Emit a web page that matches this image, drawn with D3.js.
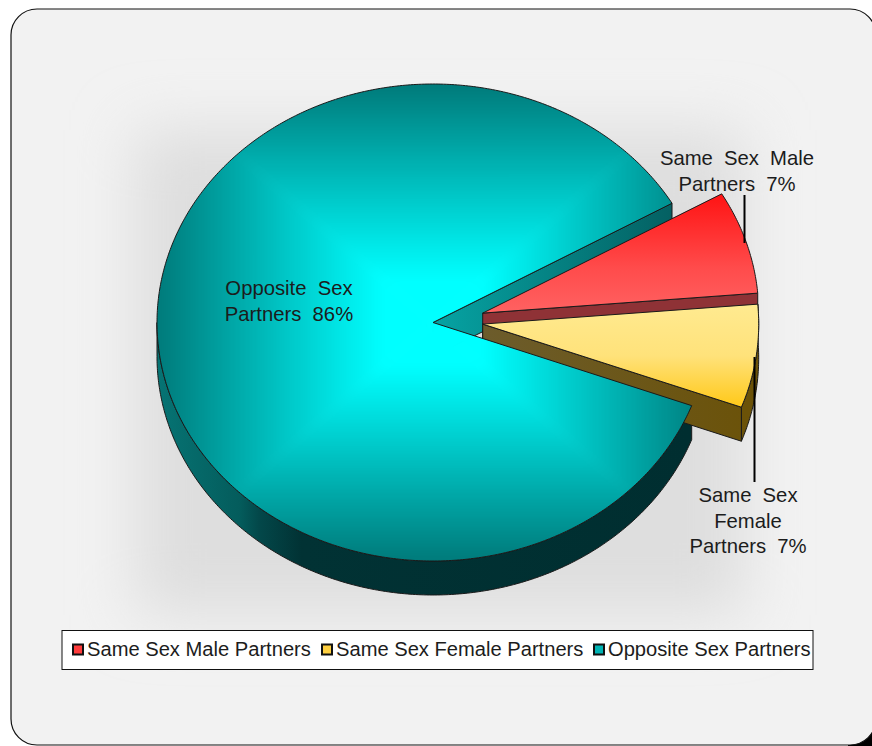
<!DOCTYPE html>
<html><head><meta charset="utf-8">
<style>html,body{margin:0;padding:0;background:#fff}svg{display:block}text{font-family:"Liberation Sans",Arial,sans-serif;fill:#1c1c1c}</style>
<script src="https://cdn.jsdelivr.net/npm/d3@7"></script></head><body>
<script>
const categories = ["Same Sex Male Partners","Same Sex Female Partners","Opposite Sex Partners"];
const values = [7,7,86];
const percentLabels = ["7%","7%","86%"];
const labelLines = [["Same Sex Male","Partners 7%"],["Same Sex","Female","Partners 7%"],["Opposite Sex","Partners 86%"]];
const legendColors = ["#ff3c3c","#ffd040","#00b4b4"];

const W=872,H=746,cx=433,cy=322.5,rx=276,ry=238.5,depth=34;
const svg=d3.select("body").append("svg").attr("width",W).attr("height",H);
const defs=svg.append("defs");
function lin(id,x1,y1,x2,y2,stops){const g=defs.append("linearGradient").attr("id",id).attr("gradientUnits","userSpaceOnUse").attr("x1",x1).attr("y1",y1).attr("x2",x2).attr("y2",y2);
 stops.forEach(s=>g.append("stop").attr("offset",s[0]).attr("stop-color",s[1]));}
const tealStops=[[0,"#00ffff"],[0.18,"#00ffff"],[0.5,"#02cccc"],[1,"#067a7a"]];
lin("gT",cx,cy,cx,cy-ry,tealStops);lin("gB",cx,cy,cx,cy+ry,tealStops);
lin("gL",cx,cy,cx-rx,cy,tealStops);lin("gR",cx,cy,cx+rx,cy,tealStops);
lin("redTop",0,195,0,318,[[0,"#ff1414"],[0.6,"#ff4c4c"],[1,"#ff6464"]]);
lin("yelTop",0,305,0,407,[[0,"#ffea90"],[0.5,"#ffe27a"],[1,"#ffc818"]]);
lin("tealWall",157,0,692,0,[[0,"#067474"],[0.155,"#045c5c"],[0.19,"#03484a"],[0.27,"#013234"],[1,"#002e30"]]);
lin("tealInner",433,0,672,0,[[0,"#06a4a4"],[1,"#046062"]]);
lin("yelWall",482,0,760,0,[[0,"#6c5c2c"],[1,"#6b5208"]]);
defs.append("filter").attr("id","soft").attr("x","-20%").attr("y","-20%").attr("width","140%").attr("height","140%")
  .append("feGaussianBlur").attr("stdDeviation",30);
defs.append("filter").attr("id","crease").attr("filterUnits","userSpaceOnUse").attr("x",60).attr("y",0).attr("width",760).attr("height",660)
  .append("feGaussianBlur").attr("stdDeviation",4);

// card
svg.append("rect").attr("x",848).attr("y",722).attr("width",24).attr("height",24).attr("fill","#000");
svg.append("rect").attr("x",11).attr("y",9).attr("width",865).attr("height",736).attr("rx",26).attr("fill","#f2f2f2").attr("stroke","#111").attr("stroke-width",1.2);
svg.append("rect").attr("x",135).attr("y",130).attr("width",610).attr("height",485).attr("fill","#dedede").attr("filter","url(#soft)");

// slices from the data
const pie=d3.pie().sort(null).value(d=>d).startAngle(Math.PI/2-30*Math.PI/180).endAngle(Math.PI/2-30*Math.PI/180+2*Math.PI);
const arcs=pie(values);
const offsets=[[49.7,-9.4],[49.7,1.6],[0,0]];
const xS=d3.scaleLinear().domain([-1,1]).range([-rx,rx]);
const yS=d3.scaleLinear().domain([-1,1]).range([-ry,ry]);
function pt(a,o,d){return [cx+o[0]+xS(Math.sin(a)),cy+o[1]+yS(-Math.cos(a))+(d||0)];}
function arcPts(a0,a1,o,d){const n=Math.max(2,Math.ceil(Math.abs(a1-a0)/0.01));return d3.range(n+1).map(i=>pt(a0+(a1-a0)*i/n,o,d));}
const line=d3.line().curve(d3.curveLinear);
const sector=(a,o)=>line([[cx+o[0],cy+o[1]],...arcPts(a.startAngle,a.endAngle,o,0)])+"Z";
const sideWall=(a0,a1,o)=>line([...arcPts(a0,a1,o,0),...arcPts(a1,a0,o,depth)])+"Z";
const cutWall=(a,o)=>{const p=pt(a,o,0);return line([[cx+o[0],cy+o[1]],p,[p[0],p[1]+depth],[cx+o[0],cy+o[1]+depth]])+"Z";};
const edge={stroke:"#1a1a1a","stroke-width":1,"stroke-linejoin":"round"};
function draw(d,fill){const s=svg.append("path").attr("d",d).attr("fill",fill);Object.entries(edge).forEach(([k,v])=>s.attr(k,v));return s;}

const [red,yel,teal]=arcs;
// opposite-sex: inner wall and outer wall at the back of the stack
draw(cutWall(teal.endAngle,offsets[2]),"url(#tealInner)");
draw(sideWall(teal.startAngle,Math.PI*1.5,offsets[2]),"url(#tealWall)");
// male
draw(cutWall(red.endAngle,offsets[0]),"#8f3236");
draw(sector(red,offsets[0]),"url(#redTop)");
// female
draw(sideWall(yel.startAngle,yel.endAngle,offsets[1]),"#6b5208");
draw(cutWall(yel.endAngle,offsets[1]),"url(#yelWall)");
draw(sector(yel,offsets[1]),"url(#yelTop)");
// opposite-sex top with box-shaped gradient
const clipId="tealClip";
defs.append("clipPath").attr("id",clipId).append("path").attr("d",sector(teal,offsets[2]));
const tg=svg.append("g").attr("clip-path",`url(#${clipId})`).append("g").attr("filter","url(#crease)");
const grow=1.12,L=cx-rx*grow,R=cx+rx*grow,T=cy-ry*grow,B=cy+ry*grow;
[["gT",[[L,T],[R,T]]],["gB",[[L,B],[R,B]]],["gL",[[L,T],[L,B]]],["gR",[[R,T],[R,B]]]].forEach(([g,c])=>{
  tg.append("path").attr("d",line([[cx,cy],c[0],c[1]])+"Z").attr("fill",`url(#${g})`).attr("stroke",`url(#${g})`).attr("stroke-width",0.6);
});
draw(sector(teal,offsets[2]),"none");

// leader lines
[[744.5,195,243],[754.5,357,482]].forEach(l=>svg.append("line").attr("x1",l[0]).attr("x2",l[0]).attr("y1",l[1]).attr("y2",l[2]).attr("stroke","#000").attr("stroke-width",2));

// data labels
const labelPos=[[737,165],[748,502],[289,295]];
labelLines.forEach((lines,i)=>{lines.forEach((t,j)=>{
  svg.append("text").attr("x",labelPos[i][0]).attr("y",labelPos[i][1]+j*25.7).attr("text-anchor","middle").attr("font-size",20.3).attr("word-spacing",5.5).text(t);
});});

// legend
svg.append("rect").attr("x",62).attr("y",630.5).attr("width",751).attr("height",39).attr("fill","#fff").attr("stroke","#111").attr("stroke-width",1);
const legendX=[72,321,593];
categories.forEach((c,i)=>{
  svg.append("rect").attr("x",legendX[i]+1).attr("y",644.5).attr("width",10).attr("height",10).attr("fill",legendColors[i]).attr("stroke","#111").attr("stroke-width",2);
  svg.append("text").attr("x",legendX[i]+15).attr("y",656).attr("font-size",20.15).text(c);
});
</script></body></html>
